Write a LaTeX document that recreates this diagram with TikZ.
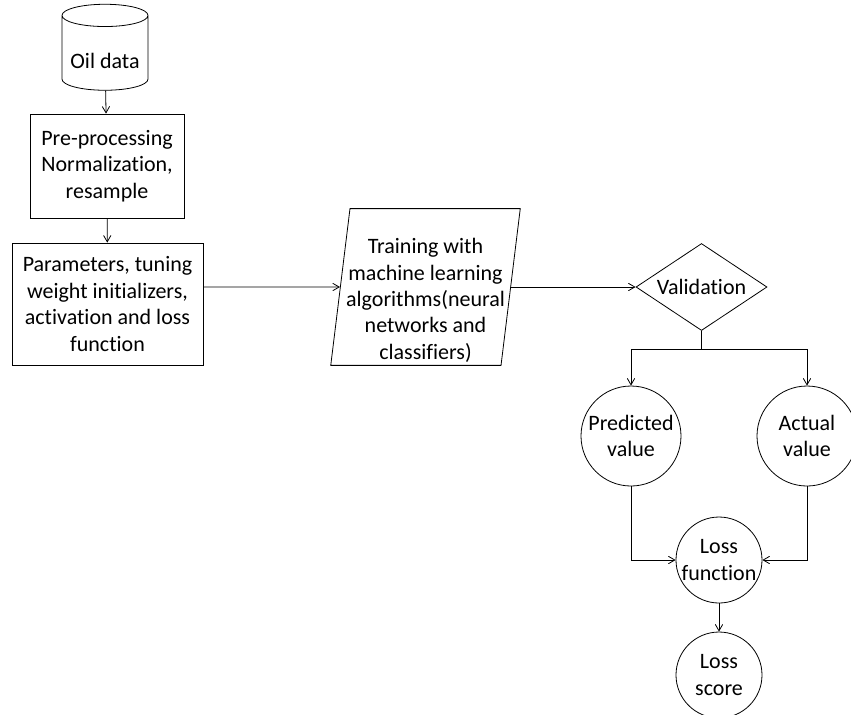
\documentclass[tikz,border=0pt]{standalone}
\usepackage{fontspec}
\setmainfont[Ligatures=NoCommon]{Carlito}
\usetikzlibrary{shapes.geometric, positioning, arrows}

\begin{document}
\begin{tikzpicture}[x=0.5pt,y=-0.5pt,font=\fontsize{11}{13.2}\selectfont,>=angle 60,
	store/.style={draw,cylinder,shape border rotate=90,aspect=0.27,align=center},
	box/.style={draw,rectangle,align=center,inner sep=2pt},
	io/.style={draw,trapezium,trapezium left angle=83,trapezium right angle=97,align=center,inner xsep=-14pt,inner ysep=-11pt},
	check/.style={draw,diamond,aspect=1.5,inner sep=0pt},
	val/.style={draw,circle,align=center,inner sep=0pt,minimum size=50pt}]
	\useasboundingbox (0,0) rectangle (851,714);
	% left column
	\node[store,minimum width=43pt,minimum height=43pt] (oil) at (105,56) {\rule{0pt}{12.5pt}Oil data};
	\node[box,minimum width=77pt,minimum height=52pt] (prep) at (107,166) {Pre-processing\\Normalization,\\resample};
	\node[box,minimum width=95.5pt,minimum height=61pt] (params) at (107.5,304) {Parameters, tuning\\weight initializers,\\activation and loss\\function};
	% training and validation
	\node[io,minimum width=95.5pt,minimum height=72pt] (train) at (425.5,287) {\rule{0pt}{21pt}Training with\\machine learning\\algorithms(neural\\networks and\\classifiers)};
	\node[check,minimum width=65.5pt,minimum height=43.5pt] (valid) at (701.5,287) {Validation};
	\coordinate[below=9pt of valid.south] (split);
	% values and loss
	\node[val] (pred) at (631,436) {Predicted\\value};
	\node[val] (act) at (807,436) {Actual\\value};
	\node[val,minimum size=43pt,inner sep=-4pt] (lossf) at (719,560) {Loss\\function};
	\node[val,minimum size=43pt,inner sep=-4pt] (losss) at (719,675) {Loss\\score};
	\draw[->] (oil) -- (prep);
	\draw[->] (prep) -- (params);
	\draw[->] (params.east |- train) -- (train);
	\draw[->] (train) -- (valid);
	\draw (valid.south) -- (split);
	\draw[->] (split) -| (pred);
	\draw[->] (split) -| (act);
	\draw[->] (pred) |- (lossf);
	\draw[->] (act) |- (lossf);
	\draw[->] (lossf) -- (losss);
\end{tikzpicture}
\end{document}
